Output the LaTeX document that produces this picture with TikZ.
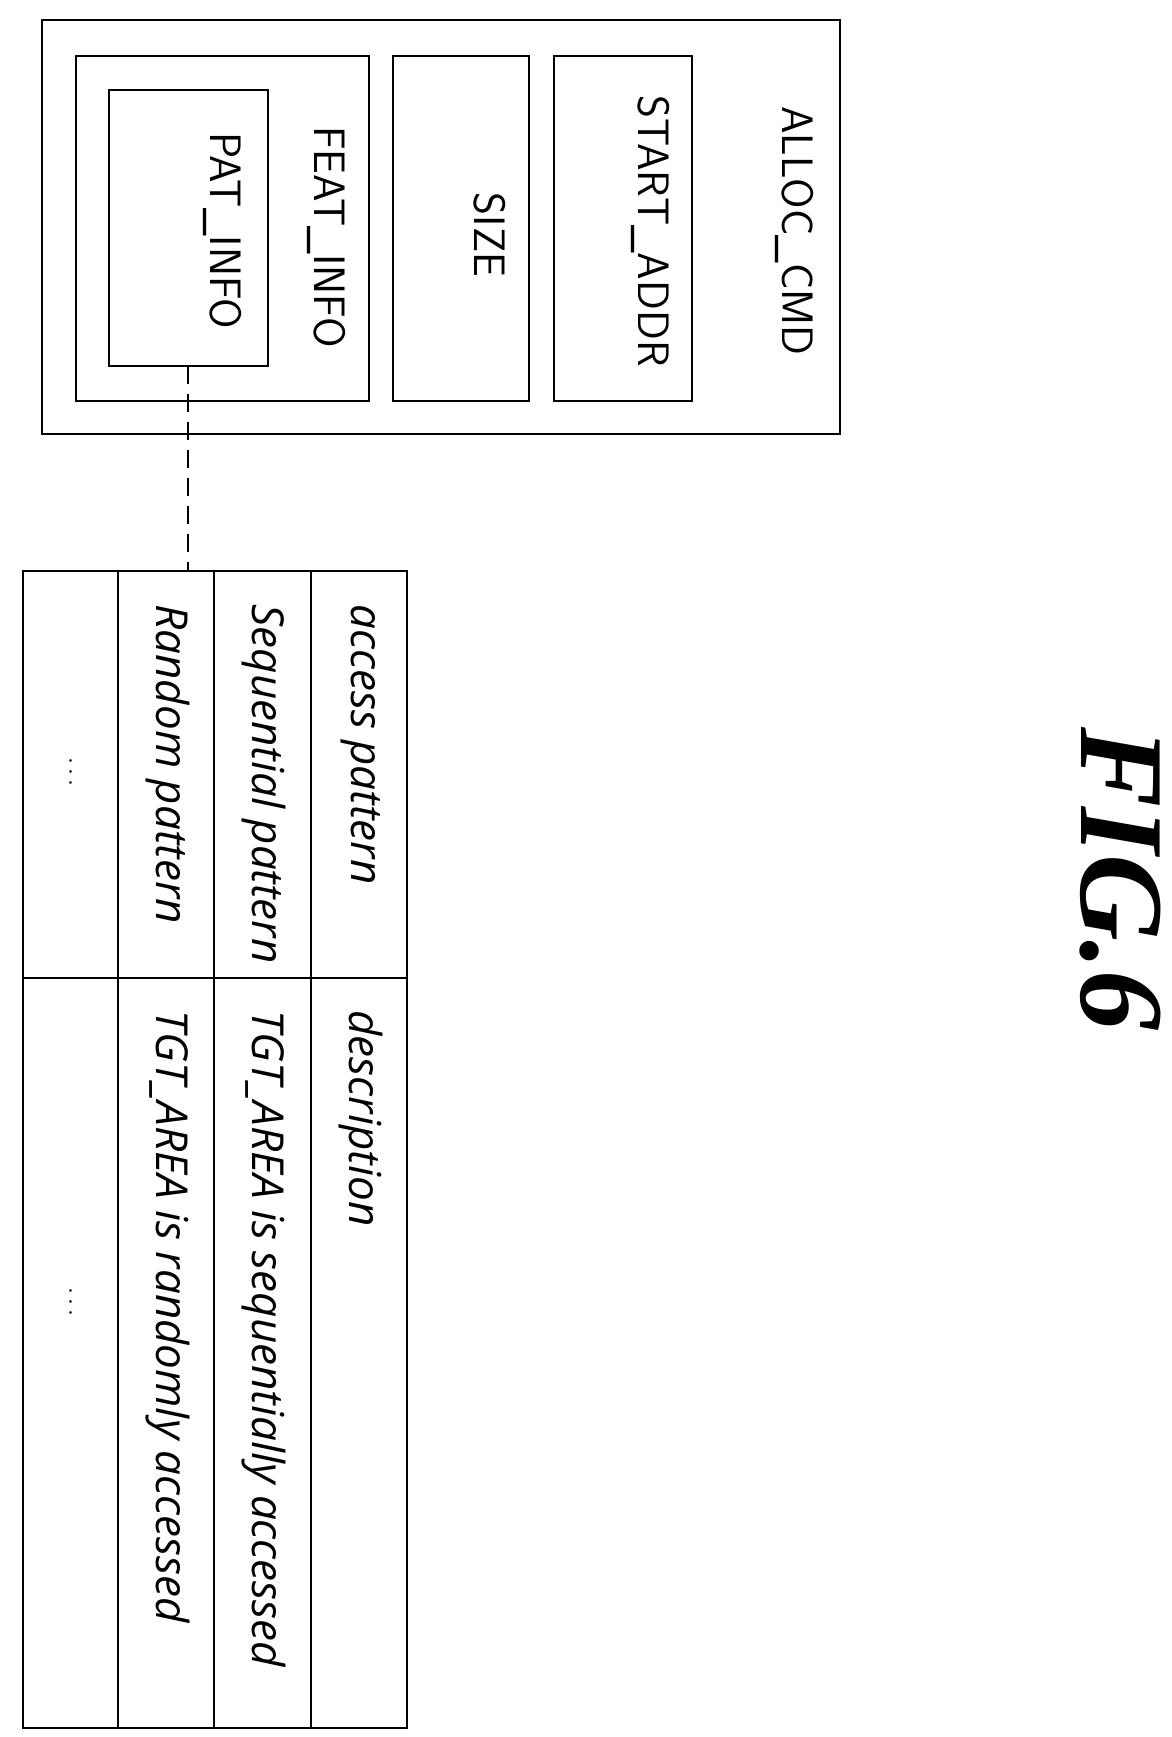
\documentclass[tikz,border=0pt]{standalone}
\usepackage{fontspec}
\setmainfont{Open Sans}
\newfontfamily\figfont{Liberation Serif}
\begin{document}
\begin{tikzpicture}[x=1pt,y=-1pt,
  box/.style={draw,line width=2.5pt},
  lbl/.style={rotate=-90,font=\fontsize{44}{50}\selectfont\sffamily},
  tlbl/.style={rotate=-90,anchor=west,font=\fontsize{44}{50}\selectfont\itshape},
  ln/.style={line width=2.5pt}]
\useasboundingbox (0,0) rectangle (1172,1737);
\draw[box] (42,20) rectangle (840,434);
\draw[box] (554,56) rectangle (692,401);
\draw[box] (393,56) rectangle (529,401);
\draw[box] (76,56) rectangle (369,401);
\draw[box] (109,90) rectangle (268,366);
\node[lbl] (alloc) at (795,231) {ALLOC\_CMD};
\node[lbl] (start) at (651,231) {START\_ADDR};
\node[lbl] (size) at (490,235) {SIZE};
\node[lbl] (feat) at (327,237) {FEAT\_INFO};
\node[lbl] (pat) at (223,231) {PAT\_INFO};
\coordinate (patb) at (188,366);
\coordinate (tabt) at (188,571);
\draw[line width=1.5pt,dash pattern=on 18pt off 10pt] (patb) -- (tabt);
\draw[box] (23,571) rectangle (407,1728);
\draw[ln] (118,571) -- (118,1728);
\draw[ln] (214,571) -- (214,1728);
\draw[ln] (311,571) -- (311,1728);
\draw[ln] (23,978) -- (407,978);
\node[tlbl] (h1) at (361,601) {access pattern};
\node[tlbl] (h2) at (361,1007) {description};
\node[tlbl] (s1) at (264,601) {Sequential pattern};
\node[tlbl] (s2) at (264,1007) {TGT\_AREA is sequentially accessed};
\node[tlbl] (r1) at (168,601) {Random pattern};
\node[tlbl] (r2) at (168,1007) {TGT\_AREA is randomly accessed};
\node[rotate=-90,font=\fontsize{44}{50}\selectfont] (d1) at (70,772) {$\cdots$};
\node[rotate=-90,font=\fontsize{44}{50}\selectfont] (d2) at (70,1302) {$\cdots$};
\node[rotate=-90,font=\fontsize{120}{130}\selectfont\figfont\bfseries\itshape] (fig) at (1120,879) {FIG.6};
\end{tikzpicture}
\end{document}
